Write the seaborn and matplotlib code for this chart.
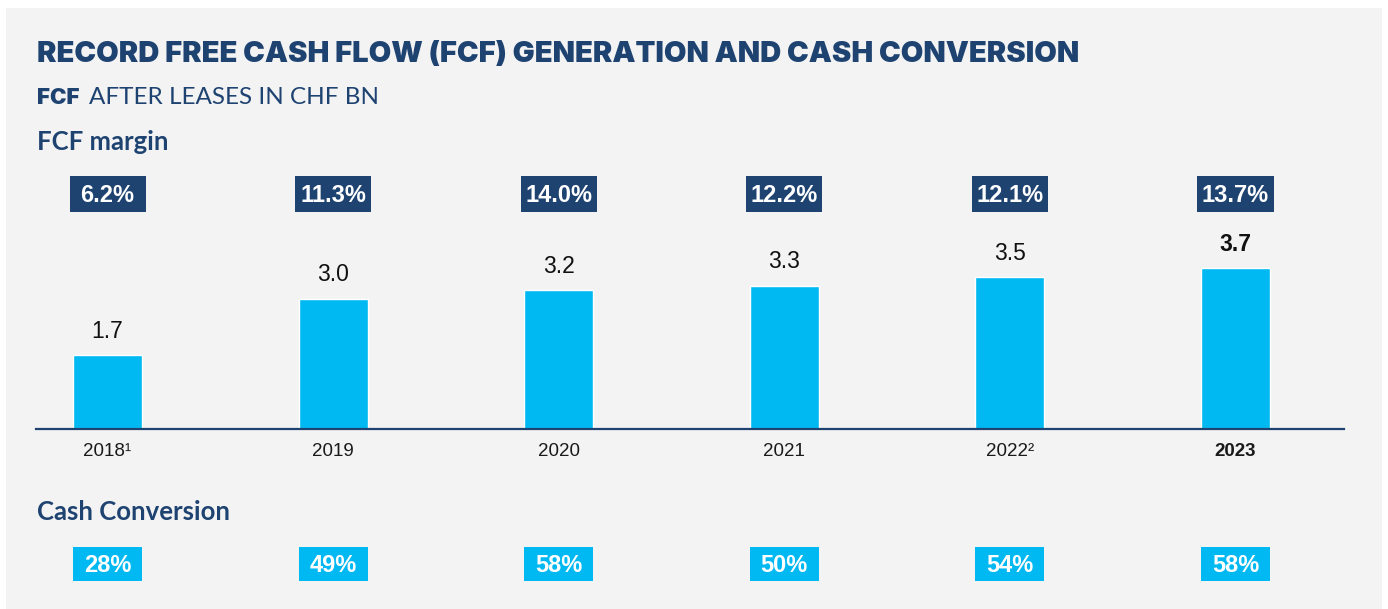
import matplotlib
matplotlib.use("Agg")
import matplotlib.pyplot as plt
import matplotlib.transforms as mtransforms
from matplotlib.patches import Rectangle
import seaborn as sns

# data
years = ["2018¹", "2019", "2020", "2021", "2022²", "2023"]
fcf = [1.7, 3.0, 3.2, 3.3, 3.5, 3.7]
fcf_margin = [6.2, 11.3, 14.0, 12.2, 12.1, 13.7]
cash_conversion = [28, 49, 58, 50, 54, 58]

NAVY = "#1e4371"
CYAN = "#00b9f2"
BG = "#f3f3f3"
W, H = 1388, 609


def fy(px):
    # pixel row -> figure fraction
    return (H - px) / H


sns.set_theme(style="white")
plt.rcParams["font.family"] = ["Liberation Sans", "DejaVu Sans"]

fig = plt.figure(figsize=(W / 100, H / 100), dpi=100)
fig.patch.set_facecolor("white")
fig.patches.append(Rectangle((6 / W, 0), (1382 - 6) / W, fy(8), transform=fig.transFigure,
                             facecolor=BG, edgecolor="none", zorder=-10))

ax = fig.add_axes([36 / W, fy(429), 1308 / W, (429 - 170) / H])
ax.set_facecolor("none")

bar_w = 0.306
sns.barplot(x=years, y=fcf, color=CYAN, saturation=1, width=bar_w, ax=ax)
ax.set_xlim(-0.317, 5.481)
ax.set_ylim(0, 259 / 43.4)

for s in ["top", "left", "right"]:
    ax.spines[s].set_visible(False)
ax.spines["bottom"].set_color(NAVY)
ax.spines["bottom"].set_linewidth(1.6)
ax.spines["bottom"].set_zorder(5)
ax.set_yticks([])
ax.set_xlabel("")
ax.set_ylabel("")
ax.tick_params(axis="x", length=0, pad=10, labelsize=13.5, labelcolor="#1a1a1a")
ax.get_xticklabels()[-1].set_fontweight("bold")

vals = ax.bar_label(ax.containers[0], labels=[f"{v:.1f}" for v in fcf],
                    padding=9, fontsize=16.5, color="#111111")
vals[-1].set_fontweight("bold")

blend = mtransforms.blended_transform_factory(ax.transData, fig.transFigure)

# FCF margin boxes
mw = 0.337
for i, m in enumerate(fcf_margin):
    ax.add_patch(Rectangle((i - mw / 2, fy(212)), mw, fy(176) - fy(212), transform=blend,
                           facecolor=NAVY, edgecolor="none", clip_on=False))
    ax.text(i, fy(195), f"{m:.1f}%", transform=blend, ha="center", va="center",
            color="white", fontsize=17, fontweight="bold")

# cash conversion boxes
for i, c in enumerate(cash_conversion):
    ax.add_patch(Rectangle((i - bar_w / 2, fy(581)), bar_w, fy(547) - fy(581), transform=blend,
                           facecolor=CYAN, edgecolor="none", clip_on=False))
    ax.text(i, fy(565), f"{c}%", transform=blend, ha="center", va="center",
            color="white", fontsize=17, fontweight="bold")

# headings
fig.text(37 / W, fy(62), "RECORD FREE CASH FLOW (FCF) GENERATION AND CASH CONVERSION",
         family=["Inter", "Lato"], fontweight=900, fontsize=21, color=NAVY, va="baseline")
fig.text(37 / W, fy(104), "FCF", family=["Inter", "Lato"], fontweight=900, fontsize=16,
         color=NAVY, va="baseline")
fig.text(89 / W, fy(104), "AFTER LEASES IN CHF BN", family="Lato", fontsize=17.5,
         color=NAVY, va="baseline")
fig.text(37 / W, fy(150), "FCF margin", family="Lato", fontweight="bold", fontsize=18.5,
         color=NAVY, va="baseline")
fig.text(37 / W, fy(520), "Cash Conversion", family="Lato", fontweight="bold", fontsize=18.5,
         color=NAVY, va="baseline")

fig.savefig("out.png", dpi=100, facecolor=fig.get_facecolor())
